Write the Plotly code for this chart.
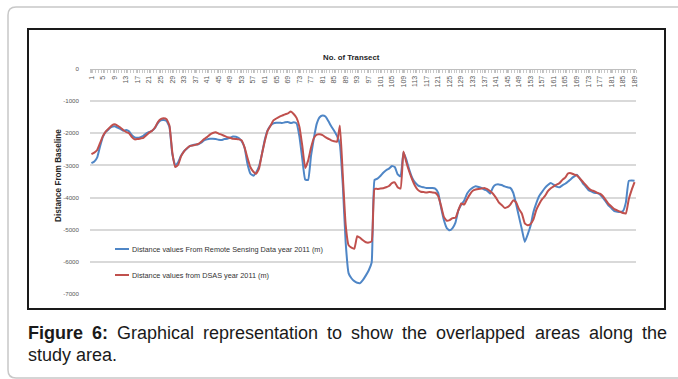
import plotly.graph_objects as go

# Transect numbers and shoreline distances (m) from the baseline
transects = list(range(1, 190))

rs_2011 = [
    -2930, -2880, -2750, -2400, -2100, -1950, -1870, -1800, -1780, -1820,
    -1860, -1920, -1900, -1940, -2060, -2130, -2140, -2120, -2080, -2000,
    -1960, -1920, -1830, -1680, -1600, -1590, -1620, -1800, -2650, -2990,
    -2900, -2700, -2560, -2480, -2400, -2370, -2350, -2340, -2290, -2220,
    -2190, -2170, -2170, -2180, -2200, -2210, -2180, -2170, -2140, -2100,
    -2110, -2150, -2250, -2450, -2950, -3250, -3320, -3220, -3030, -2650,
    -2200, -1900, -1760, -1690, -1670, -1670, -1680, -1660, -1650, -1680,
    -1660, -1690, -2100, -2800, -3440, -3450, -2700, -2150, -1700, -1500,
    -1450, -1480, -1620, -1780, -1920, -2080, -2350, -3600, -5400, -6350,
    -6510, -6600, -6650, -6660, -6560, -6420, -6260, -6020, -3450, -3410,
    -3330, -3230, -3150, -3100, -3020, -3050, -3280, -3340, -2600, -2820,
    -3130, -3380, -3530, -3620, -3660, -3680, -3700, -3700, -3700, -3720,
    -3850, -4300, -4700, -4950, -5020, -4950, -4780, -4400, -4220, -4100,
    -3880, -3760, -3690, -3650, -3670, -3700, -3750, -3790, -3880, -3680,
    -3600, -3590, -3610, -3650, -3680, -3700, -3850, -4200, -4600, -4990,
    -5380, -5150, -4880, -4450, -4170, -3950, -3820, -3700, -3610, -3550,
    -3600, -3660, -3680, -3620, -3570, -3500, -3420, -3350, -3290, -3400,
    -3540, -3650, -3760, -3810, -3850, -3860, -3900, -4000, -4120, -4250,
    -4330, -4420, -4440, -4450, -4420, -4150, -3480, -3470, -3480,
]

dsas_2011 = [
    -2650, -2600, -2520, -2300, -2080, -1940, -1850, -1760, -1720, -1760,
    -1820, -1900, -1960, -2000, -2120, -2190, -2180, -2160, -2140, -2060,
    -1980, -1920, -1820, -1650, -1560, -1530, -1560, -1760, -2600, -3050,
    -2980, -2720, -2570, -2470, -2400, -2380, -2360, -2330, -2260, -2180,
    -2120, -2040, -1990, -1970, -2010, -2040, -2080, -2120, -2140, -2170,
    -2180, -2190, -2220, -2440, -2760, -3050, -3190, -3260, -3100, -2650,
    -2250, -1920, -1760, -1600, -1540, -1490, -1450, -1410, -1380, -1320,
    -1400, -1520, -1800, -2400, -3080, -2850, -2450, -2150, -2040, -2030,
    -2060, -2120, -2170, -2220, -2250, -2260, -1760, -3300, -4850, -5480,
    -5560, -5590, -5200, -5250, -5330, -5390, -5400, -5360, -3730, -3730,
    -3720, -3710, -3680, -3640, -3550, -3530, -3680, -3720, -2570, -2900,
    -3190, -3430, -3630, -3760, -3820, -3830, -3840, -3830, -3840, -3850,
    -3950, -4250, -4600, -4720, -4700, -4640, -4630, -4400, -4180, -4220,
    -4050, -3900, -3790, -3750, -3730, -3720, -3700, -3740, -3800, -3880,
    -4000, -4150, -4230, -4320, -4300, -4220, -4080, -4150, -4360, -4500,
    -4800, -4860, -4820, -4680, -4380, -4200, -4050, -3950, -3800, -3710,
    -3650, -3600, -3550, -3450, -3380, -3250, -3240, -3280, -3310, -3400,
    -3500, -3600, -3700, -3770, -3800, -3850, -3880, -3950, -4070, -4200,
    -4280, -4360, -4400, -4440, -4480, -4490, -4050, -3760, -3520,
]

x_tick_vals = list(range(1, 190, 4))
x_tick_text = [str(v) for v in x_tick_vals]
y_tick_vals = [0, -1000, -2000, -3000, -4000, -5000, -6000, -7000]
y_tick_text = ["0", "-1000", "-2000", "-3000", "-4000", "-5000", "-6000", "-7000"]

series_names = [
    "Distance values From Remote Sensing Data year 2011 (m)",
    "Distance values from DSAS year 2011 (m)",
]
series_colors = ["#4F86C6", "#C0504D"]

caption_line1 = [("Figure", True), ("6:", True), ("Graphical", False),
                 ("representation", False), ("to", False), ("show", False),
                 ("the", False), ("overlapped", False), ("areas", False),
                 ("along", False), ("the", False)]
caption_line2 = "study area."

# ---- figure geometry (pixels) ----
W, H = 678, 379
PL, PR, PT, PB = 90, 636, 69, 294   # plot area edges


def px(x):
    return (x - PL) / (PR - PL)


def py(y):
    return 1 - (y - PT) / (PB - PT)


fig = go.Figure()
for name, vals, col in zip(series_names, [rs_2011, dsas_2011], series_colors):
    fig.add_trace(go.Scatter(
        x=transects, y=vals, mode="lines", name=name, showlegend=False,
        line=dict(color=col, width=2, shape="spline", smoothing=0.4),
    ))

fig.update_layout(
    width=W, height=H,
    margin=dict(l=PL, r=W - PR, t=PT, b=H - PB, pad=0),
    paper_bgcolor="white", plot_bgcolor="white",
    font=dict(family="Liberation Sans, Arial, sans-serif", color="#404040"),
    showlegend=False,
)

# category axis crosses the value axis at 0, i.e. along the top edge
fig.update_xaxes(
    range=[0.5, 189.5], anchor="free", position=1, side="bottom",
    showgrid=False, zeroline=False, automargin=False,
    tickmode="array", tickvals=x_tick_vals, ticktext=x_tick_text,
    tickangle=-90, tickfont=dict(size=7, color="#595959"),
    showline=True, linecolor="#bfbfbf", linewidth=1,
    ticks="outside", ticklen=3, tickcolor="#bfbfbf",
    minor=dict(tickmode="linear", tick0=0.5, dtick=1, ticks="outside", ticklen=3,
               tickcolor="#c8c8c8", showgrid=False),
)
fig.update_yaxes(
    range=[-7000, 0], tickmode="array", tickvals=y_tick_vals, ticktext=y_tick_text,
    showgrid=True, gridcolor="#d9d9d9", gridwidth=1.5, zeroline=False,
    showline=False, ticks="", tickfont=dict(size=6.2, color="#595959"),
    ticklabelstandoff=10, automargin=False,
)

# axis titles
fig.add_annotation(x=px(351), y=py(57), xref="paper", yref="paper", text="<b>No. of Transect</b>",
                   showarrow=False, xanchor="center", yanchor="middle",
                   font=dict(size=7.8, color="#262626"))
fig.add_annotation(x=px(58), y=py(176), xref="paper", yref="paper", text="<b>Distance From Baseline</b>",
                   showarrow=False, textangle=-90, xanchor="center", yanchor="middle",
                   font=dict(size=8.2, color="#262626"))

# legend drawn inside the plot area, lower left
legend_rows = [249, 275]
for name, col, ly in zip(series_names, series_colors, legend_rows):
    fig.add_shape(type="line", xref="paper", yref="paper",
                  x0=px(115), x1=px(129), y0=py(ly), y1=py(ly),
                  line=dict(color=col, width=2))
    fig.add_annotation(x=px(131), y=py(ly), xref="paper", yref="paper", text=name,
                       showarrow=False, xanchor="left", yanchor="middle", borderpad=0,
                       font=dict(size=7.3, color="#333333"))

# chart frame and page frame
fig.add_shape(type="rect", xref="paper", yref="paper",
              x0=px(28), x1=px(665), y0=py(309), y1=py(29),
              line=dict(color="#1a1a1a", width=2), layer="below")
r = 8
frame = (f"M {px(700)},{py(7)} L {px(8 + r)},{py(7)} Q {px(8)},{py(7)} {px(8)},{py(7 + r)} "
         f"L {px(8)},{py(378 - r)} Q {px(8)},{py(378)} {px(8 + r)},{py(378)} L {px(700)},{py(378)}")
fig.add_shape(type="path", xref="paper", yref="paper", path=frame,
              line=dict(color="#c8c8c8", width=1.5), layer="below")

# caption, justified across the frame width (Arial advance widths / 1000 em)
REG = {" ": 278, "a": 556, "b": 556, "c": 500, "d": 556, "e": 556, "f": 278, "g": 556, "h": 556,
       "i": 222, "l": 222, "m": 833, "n": 556, "o": 556, "p": 556, "r": 333, "s": 500, "t": 278,
       "u": 556, "v": 500, "w": 722, "y": 500, ".": 278, ":": 278, "G": 722, "6": 556}
BOLD = {"F": 611, "i": 278, "g": 611, "u": 611, "r": 389, "e": 556, "6": 556, ":": 333}
CAP_FS = 18
CAP_X0, CAP_X1 = 27, 666


def word_w(word, bold):
    table = BOLD if bold else REG
    return sum(table.get(c, 556) for c in word) * CAP_FS / 1000


widths = [word_w(w, b) for w, b in caption_line1]
gap = (CAP_X1 - CAP_X0 - sum(widths)) / (len(widths) - 1)
xcur = CAP_X0
for (w, b), ww in zip(caption_line1, widths):
    fig.add_annotation(x=px(xcur), y=py(333), xref="paper", yref="paper",
                       xanchor="left", yanchor="middle",
                       text=f"<b>{w}</b>" if b else w, showarrow=False, borderpad=0,
                       font=dict(size=CAP_FS, color="#1a1a1a"))
    xcur += ww + gap
fig.add_annotation(x=px(CAP_X0), y=py(355), xref="paper", yref="paper",
                   xanchor="left", yanchor="middle",
                   text=caption_line2, showarrow=False, borderpad=0,
                   font=dict(size=CAP_FS, color="#1a1a1a"))

fig.write_html("out.html")
